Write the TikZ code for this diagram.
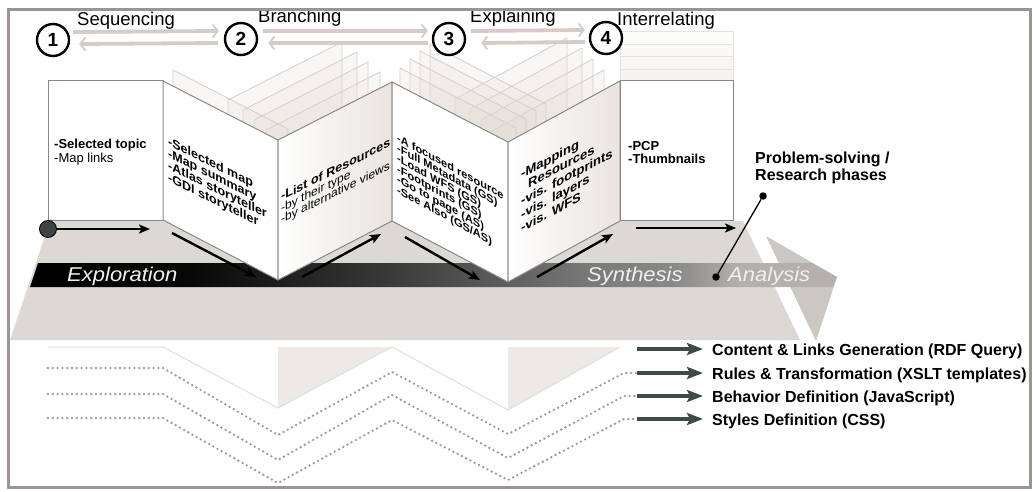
\documentclass[tikz,border=0pt]{standalone}
\usepackage{fontspec}
\setmainfont{Liberation Sans}
\usetikzlibrary{arrows.meta}

\newcommand\pfs[1]{\fontsize{#1}{#1}\selectfont}

\definecolor{framegray}{HTML}{9C9490}
\definecolor{floorgray}{HTML}{DCD8D4}
\definecolor{headgray}{HTML}{CBC7C3}
\definecolor{bandlight}{HTML}{B4B0AC}
\definecolor{panelline}{HTML}{8E8682}
\definecolor{ghostline}{HTML}{D6CEC8}
\definecolor{ghostfill}{HTML}{E2DBD4}
\definecolor{topgray}{HTML}{D5CCC7}
\definecolor{dotgray}{HTML}{A8958E}
\definecolor{codegreen}{HTML}{3E4A47}
\definecolor{reflgray}{HTML}{ECE9E6}
\definecolor{refline}{HTML}{E2DEDA}
\definecolor{shadeface}{HTML}{E8E4E0}
\definecolor{dotfill}{HTML}{3D4441}

% dark-to-light fill of the phase band
\pgfdeclarehorizontalshading{bandshade}{100bp}{%
  color(0bp)=(black); color(25bp)=(black); color(35bp)=(black!97);
  color(47bp)=(black!78); color(54bp)=(black!64); color(60bp)=(black!52);
  color(65bp)=(black!46); color(69bp)=(bandlight); color(75bp)=(bandlight);
  color(100bp)=(bandlight)}

\begin{document}
\begin{tikzpicture}[x=1pt,y=-1pt,
  panel/.style={fill=white,draw=panelline,line width=1pt,line join=round},
  ghost/.style={fill=ghostfill,fill opacity=0.2,draw=ghostline,line width=0.8pt,line join=round},
  faintghost/.style={fill=ghostfill,fill opacity=0.07,draw=ghostline!60,line width=0.7pt},
  ptxt/.style={anchor=base west,inner sep=0pt,text=black},
  floorarrow/.style={line width=2.4pt,-{Stealth[length=11pt,width=9pt,inset=2.5pt]}},
  codearrow/.style={draw=codegreen,line width=3.2pt,-{Stealth[length=16pt,width=12pt,inset=3pt]},shorten >=9pt},
  codetext/.style={anchor=base west,inner sep=0pt,font=\pfs{16}\bfseries},
  trail/.style={draw=dotgray,line width=2.6pt,line cap=round,line join=round,dash pattern=on 0pt off 4.8pt},
  dblarrow/.style={draw=topgray,line width=3.8pt,-{Straight Barb[length=5pt,width=13pt,line width=1.8pt]}},
  stepnum/.style={circle,draw=black,line width=2.4pt,fill=white,minimum size=32pt,inner sep=0pt,font=\pfs{19}\bfseries},
  steplabel/.style={anchor=base west,inner sep=0pt,font=\pfs{18.5}},
  bandlabel/.style={anchor=base west,inner sep=0pt,text=white!94!black,font=\pfs{20}\itshape,xscale=1.1},
  dot/.style={circle,fill=black,minimum size=7.5pt,inner sep=0pt},
  startdot/.style={circle,fill=dotfill,draw=black,line width=0.8pt,minimum size=17pt,inner sep=0pt},
]
\useasboundingbox (0,0) rectangle (1033,492);
\fill[white] (0,0) rectangle (1033,492);

% reflection under the floor
\fill[reflgray] (278,347) -- (392,347) -- (278,408) -- cycle;
\fill[reflgray] (508,347) -- (620,347) -- (508,410) -- cycle;
\draw[refline,line width=1pt] (48,347) -- (163,347) -- (278,408) -- (392,347) -- (508,410) -- (620,347);

% layer trails leading to the code arrows
\coordinate (s1) at (637,349);
\coordinate (s2) at (637,373);
\coordinate (s3) at (637,396);
\coordinate (s4) at (637,419);
\draw[trail] (48,368) -- (163,368) -- (278,435) -- (392,372) -- (508,434) -- (624,373) -- (s2);
\draw[trail] (48,394) -- (163,394) -- (278,460) -- (392,395) -- (508,458) -- (624,396) -- (s3);
\draw[trail] (48,418) -- (163,418) -- (278,483) -- (392,420) -- (508,480) -- (624,419) -- (s4);

% floor and arrow head
\fill[floorgray] (50,221) -- (743,221) -- (800,340) -- (10,340) -- cycle;
\fill[headgray] (766,236) -- (837,277) -- (816,341) -- cycle;
\shade[shading=bandshade] (38,263) -- (812,263) -- (837,277) -- (833,287) -- (30,287) -- cycle;
\node[bandlabel] (expl) at (67,281) {Exploration};
\node[bandlabel] (synt) at (587,281) {Synthesis};
\node[bandlabel] (anal) at (728,281) {Analysis};

% pages fanned behind the panels
\foreach \dx/\dy in {-50/-40,-35/-30,-24/-20,-12/-10}
  \draw[ghost,shift={(\dx,\dy)}] (278,140) -- (392,82) -- (392,221) -- (278,280) -- cycle;
\draw[ghost,shift={(10,-11)}] (163,81) -- (278,140) -- (278,280) -- (163,220) -- cycle;
\foreach \dx/\dy in {-53/-43,-38/-33,-27/-22,-16/-11}
  \draw[ghost,shift={(\dx,\dy)}] (508,142) -- (620,81) -- (620,221) -- (508,282) -- cycle;
\foreach \dx/\dy in {38/-38,28/-31,18/-23,8/-14}
  \draw[ghost,shift={(\dx,\dy)}] (392,82) -- (508,142) -- (508,282) -- (392,221) -- cycle;
\foreach \dy in {-50,-37,-25,-12}
  \draw[faintghost,shift={(0,\dy)}] (620,81) rectangle (733,220);

% the six panels
\draw[panel] (48,81) rectangle (163,220);
\draw[panel] (163,81) -- (278,140) -- (278,280) -- (163,220) -- cycle;
\draw[panel,left color=white,right color=shadeface] (278,140) -- (392,82) -- (392,221) -- (278,280) -- cycle;
\draw[panel] (392,82) -- (508,142) -- (508,282) -- (392,221) -- cycle;
\draw[panel,left color=white,right color=shadeface] (508,142) -- (620,81) -- (620,221) -- (508,282) -- cycle;
\draw[panel] (620,81) rectangle (733,220);

% panel texts
\node[ptxt] (p1) at (54,148)
  {\vtop{\fontsize{13}{14}\selectfont\hbox{\bfseries -Selected topic}\hbox{-Map links}}};
\node[ptxt,yslant=-0.5] (p2) at (168,145)
  {\vtop{\fontsize{12.5}{12}\selectfont\bfseries
    \hbox{-Selected map}\hbox{-Map summary}\hbox{-Atlas storyteller}\hbox{-GDI storyteller}}};
\node[ptxt,yslant=0.5] (p3) at (281,201)
  {\vtop{\fontsize{12}{11.5}\selectfont
    \hbox{\fontsize{12.5}{11.5}\selectfont\bfseries -List of Resources}\hbox{-by their type}\hbox{-by alternative views}}};
\node[ptxt,yslant=-0.55] (p4) at (397,141)
  {\vtop{\fontsize{11}{10.4}\selectfont\bfseries
    \hbox{-A focused resource}\hbox{-Full Metadata (GS)}\hbox{-Load WFS (GS)}%
    \hbox{-Footprints (GS)}\hbox{-Go to page (AS)}\hbox{-See Also (GS/AS)}}};
\node[ptxt,yslant=0.53] (p5) at (521,179)
  {\vtop{\fontsize{13}{13.4}\selectfont\bfseries
    \hbox{-Mapping}\hbox{\kern7pt Resources}\hbox{-vis. footprints}\hbox{-vis. layers}\hbox{-vis. WFS}}};
\node[ptxt] (p6) at (628,150)
  {\vtop{\fontsize{13}{13.5}\selectfont\bfseries\hbox{-PCP}\hbox{-Thumbnails}}};

% path across the floor
\node[startdot] (sd) at (48,229) {};
\coordinate (f1) at (150,229);
\coordinate (f2a) at (172,233);  \coordinate (f2b) at (256,277);
\coordinate (f3a) at (302,277);  \coordinate (f3b) at (381,234);
\coordinate (f4a) at (405,237);  \coordinate (f4b) at (480,280);
\coordinate (f5a) at (537,277);  \coordinate (f5b) at (613,234);
\coordinate (f6a) at (636,228);  \coordinate (f6b) at (736,228);
\draw[floorarrow] (sd) -- (f1);
\draw[floorarrow] (f2a) -- (f2b);
\draw[floorarrow] (f3a) -- (f3b);
\draw[floorarrow] (f4a) -- (f4b);
\draw[floorarrow] (f5a) -- (f5b);
\draw[floorarrow] (f6a) -- (f6b);

% numbered steps along the top
\node[stepnum] (c1) at (53,40) {1};
\node[stepnum] (c2) at (241,39) {2};
\node[stepnum] (c3) at (449,39) {3};
\node[stepnum] (c4) at (606,38) {4};
\draw[dblarrow] ([shift={(3pt,8pt)}]c1.east) -- ([shift={(-5pt,8pt)}]c2.west);
\draw[dblarrow] ([shift={(-6pt,-4pt)}]c2.west) -- ([shift={(9pt,-4pt)}]c1.east);
\draw[dblarrow] ([shift={(5pt,8pt)}]c2.east) -- ([shift={(-4pt,8pt)}]c3.west);
\draw[dblarrow] ([shift={(-4pt,-4pt)}]c3.west) -- ([shift={(10pt,-4pt)}]c2.east);
\draw[dblarrow] ([shift={(5pt,8pt)}]c3.east) -- ([shift={(-4pt,8pt)}]c4.west);
\draw[dblarrow] ([shift={(-4pt,-4pt)}]c4.west) -- ([shift={(15pt,-4pt)}]c3.east);
\node[steplabel] (l1) at (77,26) {Sequencing};
\node[steplabel] (l2) at (258,23) {Branching};
\node[steplabel] (l3) at (470,23) {Explaining};
\node[steplabel] (l4) at (617,26) {Interrelating};

% phases callout
\node[dot] (lt) at (763,196) {};
\node[dot] (lb) at (716,277) {};
\draw[line width=1.3pt] (lt) -- (lb);
\node[anchor=north west,align=left,inner sep=0pt,font=\fontsize{16}{17}\selectfont\bfseries] (phase) at (755,152) {Problem-solving /\\Research phases};

% implementation layers
\node[codetext] (t1) at (712,355) {Content \& Links Generation (RDF Query)};
\node[codetext] (t2) at (712,379) {Rules \& Transformation (XSLT templates)};
\node[codetext] (t3) at (712,402) {Behavior Definition (JavaScript)};
\node[codetext] (t4) at (712,425) {Styles Definition (CSS)};
\draw[codearrow] (s1) -- (s1 -| t1.west);
\draw[codearrow] (s2) -- (s2 -| t2.west);
\draw[codearrow] (s3) -- (s3 -| t3.west);
\draw[codearrow] (s4) -- (s4 -| t4.west);

% frame
\draw[framegray,line width=3pt] (8.5,10) rectangle (1030.5,487);
\end{tikzpicture}
\end{document}
